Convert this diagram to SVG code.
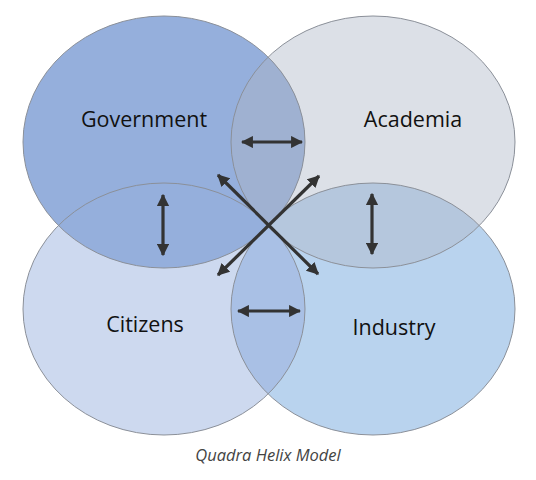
<svg xmlns="http://www.w3.org/2000/svg" width="536" height="480" viewBox="0 0 536 480">
<style>
.lbl{font-family:"Open Sans","DejaVu Sans",sans-serif;font-size:21.5px;fill:#111;text-anchor:middle}
.cap{font-family:"Open Sans","DejaVu Sans",sans-serif;font-size:16.5px;font-style:italic;fill:#444;text-anchor:middle}
.edge{fill:none;stroke:#8b9099;stroke-width:1}
.arr{stroke:#333;stroke-width:3.2;fill:none;marker-start:url(#ah);marker-end:url(#ah)}
</style>
<defs>
<marker id="ah" viewBox="0 0 10 10" refX="9" refY="5" markerWidth="3.8" markerHeight="3.8" orient="auto-start-reverse" markerUnits="strokeWidth">
<path d="M0,0 L10,5 L0,10 z" fill="#333"/>
</marker>
<clipPath id="cG"><ellipse cx="164" cy="142" rx="141" ry="126"/></clipPath>
<clipPath id="cA"><ellipse cx="373" cy="142" rx="142" ry="126"/></clipPath>
<clipPath id="cC"><ellipse cx="164" cy="309" rx="141" ry="126"/></clipPath>
<clipPath id="cI"><ellipse cx="373" cy="309" rx="142" ry="126"/></clipPath>
</defs>
<rect width="536" height="480" fill="#ffffff"/>
<g id="citizens">
<ellipse cx="164" cy="309" rx="141" ry="126" fill="#cdd9ef"/>
</g>
<g id="industry">
<ellipse cx="373" cy="309" rx="142" ry="126" fill="#b9d3ee"/>
</g>
<g id="academia">
<ellipse cx="373" cy="142" rx="142" ry="126" fill="#dce0e7"/>
</g>
<g id="government">
<ellipse cx="164" cy="142" rx="141" ry="126" fill="#95afdc"/>
</g>
<g id="overlaps">
<ellipse cx="373" cy="309" rx="142" ry="126" fill="#a9c0e5" clip-path="url(#cC)"/>
<ellipse cx="373" cy="309" rx="142" ry="126" fill="#b5c7dd" clip-path="url(#cA)"/>
<ellipse cx="373" cy="142" rx="142" ry="126" fill="#9fb1d1" clip-path="url(#cG)"/>
</g>
<g id="edges">
<ellipse class="edge" cx="164" cy="142" rx="141" ry="126"/>
<ellipse class="edge" cx="373" cy="142" rx="142" ry="126"/>
<ellipse class="edge" cx="164" cy="309" rx="141" ry="126"/>
<ellipse class="edge" cx="373" cy="309" rx="142" ry="126"/>
</g>
<g id="connectors">
<line class="arr" x1="242" y1="142" x2="302" y2="142"/>
<line class="arr" x1="238" y1="311" x2="300" y2="311"/>
<line class="arr" x1="163" y1="195" x2="163" y2="255"/>
<line class="arr" x1="372" y1="194" x2="372" y2="254"/>
<line class="arr" x1="218" y1="175" x2="318" y2="274"/>
<line class="arr" x1="319" y1="176" x2="218" y2="275"/>
</g>
<g id="labels">
<text class="lbl" x="144" y="127">Government</text>
<text class="lbl" x="413" y="127">Academia</text>
<text class="lbl" x="145" y="332">Citizens</text>
<text class="lbl" x="394" y="335">Industry</text>
<text class="cap" x="268" y="461">Quadra Helix Model</text>
</g>
</svg>
